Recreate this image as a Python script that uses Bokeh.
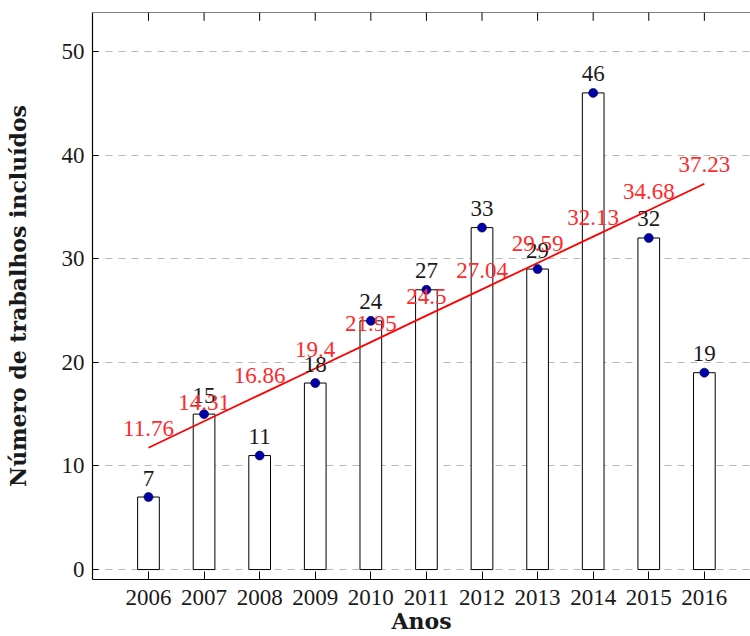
from bokeh.plotting import figure
from bokeh.models import FixedTicker, Range1d, ColumnDataSource, Span
from bokeh.embed import file_html
from bokeh.resources import INLINE
from bokeh.core.properties import value

years = [2006, 2007, 2008, 2009, 2010, 2011, 2012, 2013, 2014, 2015, 2016]
counts = [7, 15, 11, 18, 24, 27, 33, 29, 46, 32, 19]
trend = [11.76, 14.31, 16.86, 19.4, 21.95, 24.5, 27.04, 29.59, 32.13, 34.68, 37.23]
trend_labels = ["11.76", "14.31", "16.86", "19.4", "21.95", "24.5", "27.04", "29.59", "32.13", "34.68", "37.23"]
count_labels = [str(c) for c in counts]
y_ticks = [0, 10, 20, 30, 40, 50]
Y_MIN, Y_MAX = -0.96, 53.76
TOP_TICK = 0.8  # inward tick length at the top frame, in y units (about 8 px)

FONT = "Liberation Serif"
BFONT = "DejaVu Serif"
FS = "23px"

src = ColumnDataSource(dict(x=years, top=counts, lab=count_labels, t=trend, tlab=trend_labels,
                            ytop=[Y_MAX] * len(years), ytick=[Y_MAX - TOP_TICK] * len(years)))

p = figure(width=750, height=636, output_backend="svg", toolbar_location=None,
           x_range=Range1d(2004.993, 2016.83), y_range=Range1d(Y_MIN, Y_MAX),
           min_border_left=92, min_border_right=0, min_border_top=12, min_border_bottom=0,
           x_axis_location="below")
p.outline_line_color = None
p.background_fill_color = "white"
p.border_fill_color = "white"

# grid
p.xgrid.grid_line_color = None
p.ygrid.ticker = FixedTicker(ticks=y_ticks)
p.ygrid.grid_line_color = "#b8b8b8"
p.ygrid.grid_line_dash = "7 6"
p.ygrid.grid_line_width = 1

# bars
p.vbar(x="x", top="top", bottom=0, width=0.39, source=src, fill_color="white",
       line_color="black", line_width=1)

# trend line
p.line(x="x", y="t", source=src, line_color="#ff0000", line_width=1.8)

# dots
p.scatter(x="x", y="top", source=src, size=9, fill_color="#0000aa", line_color="#000033", line_width=0.6)

# labels
p.text(x="x", y="top", text="lab", source=src, text_font=value(FONT), text_font_size=FS,
       text_align="center", text_baseline="alphabetic", y_offset=-19, text_color="#1a1a1a")
p.text(x="x", y="t", text="tlab", source=src, text_font=value(FONT), text_font_size=FS,
       text_align="center", text_baseline="alphabetic", y_offset=-19, text_color="#ff2a2a")

# top frame line with inward ticks
p.add_layout(Span(location=Y_MAX, dimension="width", line_color="black", line_width=1.2))
p.segment(x0="x", y0="ytop", x1="x", y1="ytick", source=src, line_color="black", line_width=1)

# x axis
xa = p.xaxis[0]
xa.ticker = FixedTicker(ticks=years)
xa.major_tick_in = 8
xa.major_tick_out = 0
xa.minor_tick_line_color = None
xa.major_label_text_font = FONT
xa.major_label_text_font_size = FS
xa.major_label_text_color = "#1a1a1a"
xa.major_label_standoff = 10
xa.axis_label = "Anos"
xa.axis_label_text_font = BFONT
xa.axis_label_text_font_size = "22px"
xa.axis_label_text_font_style = "bold"
xa.axis_label_text_color = "#1a1a1a"
xa.axis_label_standoff = 0
xa.axis_line_color = "black"
xa.axis_line_width = 1.2

# y axis
ya = p.yaxis[0]
ya.ticker = FixedTicker(ticks=y_ticks)
ya.major_tick_in = 6
ya.major_tick_out = 0
ya.minor_tick_line_color = None
ya.major_label_text_font = FONT
ya.major_label_text_font_size = FS
ya.major_label_text_color = "#1a1a1a"
ya.major_label_standoff = 8
ya.axis_label = "Número de trabalhos incluídos"
ya.axis_label_text_font = BFONT
ya.axis_label_text_font_size = "22px"
ya.axis_label_text_font_style = "bold"
ya.axis_label_text_color = "#1a1a1a"
ya.axis_label_standoff = 28
ya.axis_line_color = "black"
ya.axis_line_width = 1.2

open("out.html", "w").write(file_html(p, INLINE))
